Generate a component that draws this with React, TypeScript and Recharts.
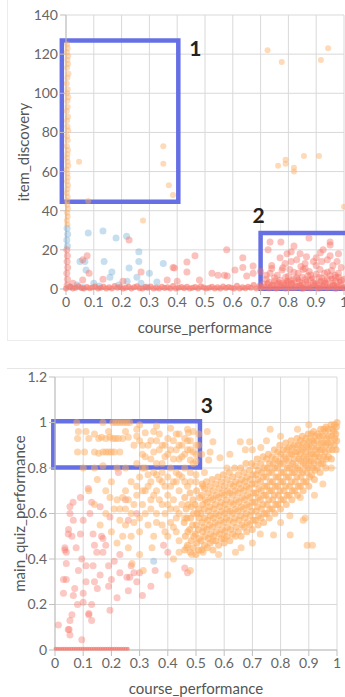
import { ScatterChart, Scatter, XAxis, YAxis, CartesianGrid, ReferenceArea, Label } from "recharts"

type Pt = [number, number]

const xTicks = [0, 0.1, 0.2, 0.3, 0.4, 0.5, 0.6, 0.7, 0.8, 0.9, 1]
const discoveryTicks = [0, 20, 40, 60, 80, 100, 120, 140]
const quizTicks = [0, 0.2, 0.4, 0.6, 0.8, 1, 1.2]

// top chart: course_performance vs item_discovery
const topOrange: Pt[] = [
  [0.004, 125], [0.006, 123], [0.003, 121], [0.008, 119], [0.005, 117], [0.007, 115], [0.004, 113], [0.009, 110],
  [0.005, 108], [0.003, 105], [0.006, 102], [0.004, 100], [0.008, 98], [0.005, 96], [0.006, 93], [0.003, 91],
  [0.007, 88], [0.004, 86], [0.005, 83], [0.008, 81], [0.004, 78], [0.006, 76], [0.003, 73], [0.007, 71],
  [0.005, 69], [0.004, 67], [0.006, 65], [0.008, 63], [0.003, 61], [0.005, 59], [0.006, 57], [0.004, 55],
  [0.007, 53], [0.005, 51], [0.003, 49], [0.006, 47], [0.004, 45], [0.005, 43], [0.007, 41], [0.004, 39],
  [0.006, 37], [0.003, 35], [0.005, 33],
  [0.047, 65], [0.35, 73], [0.35, 64], [0.37, 53], [0.385, 48], [0.08, 45], [0.277, 35],
  [0.725, 122], [0.776, 116], [0.917, 117], [0.943, 123], [0.763, 63], [0.79, 66], [0.79, 64], [0.82, 62],
  [0.856, 68], [0.91, 68], [0.82, 60], [1.0, 42],
]

const topBlue: Pt[] = [
  [0.08, 28.6], [0.133, 29.6], [0.18, 26], [0.218, 27], [0.262, 19], [0.262, 14], [0.05, 14], [0.068, 14],
  [0.072, 9.7], [0.137, 14], [0.165, 8.7], [0.158, 6], [0.227, 10.7], [0.255, 6], [0.35, 13], [0.327, 3.6],
  [0.014, 1], [0.3, 8], [0.1, 3], [0.04, 2], [0.27, 3], [0.19, 2], [0.004, 31], [0.006, 28], [0.003, 25],
  [0.005, 22], [0.12, 1.5], [0.06, 0.8], [0.22, 4], [0.29, 1],
]

const topRed: Pt[] = [
  [0.227, 25], [0.076, 17], [0.06, 15], [0.083, 8], [0.06, 4.6], [0.133, 5], [0.27, 8.7], [0.364, 4.6],
  [0.39, 10.7], [0.435, 13.8], [0.435, 8.7], [0.464, 17], [0.025, 3], [0.205, 4], [0.4, 4], [0.578, 20],
  [0.385, 11], [0.525, 8], [0.48, 4.6], [0.547, 7], [0.608, 9.7], [0.636, 16], [0.636, 11], [0.673, 11.7],
  [0.65, 6.6], [0.58, 6.6], [0.673, 8], [0.57, 7],
  [0.734, 24], [0.773, 24], [0.874, 26], [0.95, 24], [0.95, 22.5], [0.82, 22], [0.727, 20], [0.795, 18],
  [0.77, 16], [0.842, 18], [0.925, 20], [0.98, 18], [0.74, 12], [0.788, 13], [0.83, 15], [0.89, 14],
  [0.92, 14], [0.96, 12], [0.777, 9.7], [0.853, 10], [0.914, 10], [0.968, 7], [0.734, 8], [0.76, 7],
  [0.81, 14], [0.86, 13], [0.9, 16], [0.94, 15], [0.99, 11], [0.805, 10], [0.835, 8], [0.875, 9], [0.93, 8],
  [0.955, 9.5], [0.98, 6], [0.72, 5], [0.75, 4], [0.79, 6], [0.82, 5], [0.85, 6], [0.88, 4.5], [0.91, 6],
  [0.94, 5], [0.97, 4], [1.0, 5], [0.78, 3], [0.81, 2.5], [0.84, 3.5], [0.87, 2], [0.9, 3], [0.93, 2.5],
  [0.96, 3], [0.99, 2], [0.71, 2.5], [0.74, 1.8], [0.77, 1.5], [0.8, 1], [0.83, 1.2], [0.86, 0.8],
  [0.89, 1.4], [0.92, 1], [0.95, 1.6], [0.98, 1], [0.73, 0.5], [0.76, 0.7], [0.79, 0.4], [0.82, 0.6],
  [0.85, 0.3], [0.88, 0.5], [0.91, 0.4], [0.94, 0.6], [0.97, 0.3], [1.0, 0.8], [0.845, 11.5], [0.865, 16.5],
  [0.915, 18.5], [0.975, 14], [0.7, 9], [0.81, 19], [0.9, 12], [0.95, 17],
  [0.73, 3.5], [0.75, 5.8], [0.77, 4.5], [0.79, 2.8], [0.8, 6.5], [0.81, 4.2], [0.83, 5.8], [0.84, 1.5],
  [0.86, 4.8], [0.87, 6.8], [0.89, 3.2], [0.9, 7.5], [0.91, 2.2], [0.92, 5.5], [0.93, 4.2], [0.95, 6.8],
  [0.96, 1.8], [0.97, 5.9], [0.99, 4.5], [0.76, 2.5], [0.8, 3.4], [0.85, 2.8], [0.88, 7.2], [0.94, 8.5],
  [0.98, 8], [0.82, 8.5], [0.86, 10.5], [0.78, 10.8], [0.72, 7], [0.74, 10.5],
  [0.003, 20], [0.005, 17], [0.004, 14], [0.006, 11], [0.003, 8], [0.005, 5], [0.004, 2],
]

// the packed band of red points along item_discovery = 0
const topRedBand: Pt[] = [
  [0.0, 0.3], [0.015, 1.1], [0.025, 0.2], [0.035, 0.7], [0.045, 1.4], [0.055, 0.5], [0.065, 0.2], [0.075, 1.0],
  [0.085, 0.4], [0.095, 0.8], [0.105, 1.3], [0.115, 0.2], [0.125, 0.6], [0.135, 1.1], [0.145, 0.3], [0.155, 0.9],
  [0.165, 0.2], [0.175, 1.5], [0.185, 0.6], [0.195, 1.0], [0.205, 0.3], [0.215, 0.7], [0.225, 1.2], [0.235, 0.2],
  [0.245, 0.9], [0.255, 1.4], [0.265, 0.4], [0.275, 0.2], [0.285, 1.0], [0.295, 0.6], [0.305, 1.3], [0.315, 0.3],
  [0.325, 0.8], [0.335, 0.2], [0.345, 1.1], [0.355, 0.5], [0.365, 0.9], [0.375, 0.3], [0.385, 1.5], [0.395, 0.2],
  [0.405, 0.7], [0.415, 1.0], [0.425, 0.4], [0.435, 1.2], [0.445, 0.2], [0.455, 0.6], [0.465, 1.0], [0.475, 0.3],
  [0.485, 1.4], [0.495, 0.8], [0.505, 0.2], [0.515, 0.6], [0.525, 1.1], [0.535, 0.3], [0.545, 0.9], [0.555, 0.2],
  [0.565, 1.3], [0.575, 0.5], [0.585, 1.0], [0.595, 0.7], [0.605, 0.3], [0.615, 1.6], [0.625, 0.2], [0.635, 0.9],
  [0.645, 0.4], [0.655, 1.2], [0.665, 0.7], [0.675, 2.1], [0.685, 0.3], [0.695, 1.5], [0.705, 0.6], [0.715, 1.2],
  [0.725, 3.0], [0.735, 0.9], [0.745, 2.4], [0.755, 0.3], [0.765, 3.5], [0.775, 1.0], [0.785, 2.2], [0.795, 4.2],
  [0.805, 0.6], [0.815, 3.1], [0.825, 1.8], [0.835, 4.8], [0.845, 2.0], [0.855, 0.5], [0.865, 3.8], [0.875, 1.2],
  [0.885, 5.5], [0.895, 2.6], [0.905, 0.7], [0.915, 4.0], [0.925, 1.7], [0.935, 3.3], [0.945, 0.9], [0.955, 5.2],
  [0.965, 2.1], [0.975, 1.1], [0.985, 3.7], [0.995, 0.6],
]

// bottom chart: course_performance vs main_quiz_performance
const quizRedFloor: Pt[] = [
  [0.002, 0.006], [0.01, 0.006], [0.018, 0.006], [0.026, 0.006], [0.034, 0.006], [0.042, 0.006], [0.05, 0.006],
  [0.058, 0.006], [0.066, 0.006], [0.074, 0.006], [0.082, 0.006], [0.09, 0.006], [0.098, 0.006], [0.106, 0.006],
  [0.114, 0.006], [0.122, 0.006], [0.13, 0.006], [0.138, 0.006], [0.146, 0.006], [0.154, 0.006], [0.162, 0.006],
  [0.17, 0.006], [0.178, 0.006], [0.186, 0.006], [0.194, 0.006], [0.202, 0.006], [0.21, 0.006], [0.218, 0.006],
  [0.226, 0.006], [0.234, 0.006], [0.242, 0.006], [0.25, 0.006], [0.258, 0.006],
]

const quizRed: Pt[] = [
  [0.012, 0.11], [0.053, 0.13], [0.05, 0.09], [0.06, 0.155], [0.095, 0.045], [0.08, 0.2], [0.12, 0.155],
  [0.13, 0.13], [0.195, 0.175], [0.03, 0.31], [0.07, 0.27], [0.065, 0.24], [0.1, 0.25], [0.15, 0.27],
  [0.14, 0.3], [0.19, 0.28], [0.26, 0.26], [0.31, 0.24], [0.34, 0.28], [0.23, 0.34], [0.28, 0.34],
  [0.29, 0.3], [0.46, 0.36], [0.47, 0.34],
  [0.03, 0.25], [0.04, 0.31], [0.035, 0.45], [0.04, 0.43], [0.048, 0.53], [0.06, 0.5], [0.09, 0.51],
  [0.095, 0.4], [0.083, 0.35], [0.11, 0.37], [0.135, 0.37], [0.14, 0.46], [0.148, 0.43], [0.165, 0.5],
  [0.17, 0.43], [0.19, 0.37], [0.21, 0.39], [0.255, 0.32], [0.27, 0.37], [0.3, 0.34], [0.355, 0.35],
  [0.385, 0.46], [0.4, 0.43], [0.1, 0.21], [0.12, 0.16], [0.047, 0.09], [0.053, 0.066], [0.13, 0.2],
  [0.053, 0.6], [0.09, 0.67], [0.118, 0.71], [0.13, 0.65], [0.16, 0.63], [0.195, 0.585], [0.225, 0.78],
  [0.25, 0.66], [0.26, 0.57], [0.29, 0.6], [0.065, 0.57], [0.047, 0.51], [0.035, 0.44], [0.04, 0.38],
  [0.135, 0.51], [0.17, 0.49], [0.18, 0.46], [0.23, 0.42], [0.265, 0.32], [0.1, 0.57], [0.124, 0.6],
  [0.064, 0.65], [0.053, 0.63], [0.075, 0.45], [0.11, 0.3], [0.16, 0.33], [0.2, 0.31], [0.22, 0.23],
]

const quizBlue: Pt[] = [[0.35, 0.39]]

// main diagonal cluster, first pass
const quizOrange: Pt[] = [
  [0.46, 0.44], [0.462, 0.5], [0.458, 0.56], [0.465, 0.62], [0.46, 0.67],
  [0.48, 0.43], [0.483, 0.48], [0.478, 0.53], [0.481, 0.58], [0.484, 0.63], [0.479, 0.69],
  [0.5, 0.42], [0.503, 0.47], [0.498, 0.51], [0.501, 0.55], [0.504, 0.6], [0.497, 0.64], [0.502, 0.7],
  [0.52, 0.44], [0.518, 0.48], [0.523, 0.52], [0.521, 0.56], [0.517, 0.6], [0.524, 0.64], [0.52, 0.68], [0.522, 0.73],
  [0.54, 0.45], [0.543, 0.49], [0.538, 0.53], [0.541, 0.57], [0.544, 0.61], [0.539, 0.65], [0.542, 0.69], [0.537, 0.74],
  [0.56, 0.44], [0.562, 0.5], [0.558, 0.54], [0.561, 0.58], [0.563, 0.62], [0.559, 0.66], [0.561, 0.7], [0.557, 0.75],
  [0.58, 0.46], [0.583, 0.51], [0.578, 0.55], [0.581, 0.59], [0.584, 0.63], [0.579, 0.67], [0.582, 0.71], [0.578, 0.76],
  [0.6, 0.47], [0.602, 0.52], [0.598, 0.56], [0.601, 0.6], [0.603, 0.64], [0.599, 0.68], [0.601, 0.72], [0.597, 0.77],
  [0.62, 0.48], [0.623, 0.53], [0.618, 0.57], [0.621, 0.61], [0.624, 0.65], [0.619, 0.69], [0.622, 0.73], [0.618, 0.78],
  [0.64, 0.5], [0.642, 0.54], [0.638, 0.58], [0.641, 0.62], [0.643, 0.66], [0.639, 0.7], [0.641, 0.74], [0.637, 0.8],
  [0.66, 0.5], [0.663, 0.55], [0.658, 0.59], [0.661, 0.63], [0.664, 0.67], [0.659, 0.71], [0.662, 0.75], [0.658, 0.8],
  [0.68, 0.52], [0.682, 0.56], [0.678, 0.6], [0.681, 0.64], [0.683, 0.68], [0.679, 0.72], [0.681, 0.76], [0.677, 0.82],
  [0.7, 0.53], [0.703, 0.57], [0.698, 0.61], [0.701, 0.65], [0.704, 0.69], [0.699, 0.73], [0.702, 0.77], [0.698, 0.82],
  [0.72, 0.55], [0.722, 0.59], [0.718, 0.63], [0.721, 0.67], [0.723, 0.71], [0.719, 0.75], [0.721, 0.79], [0.717, 0.84],
  [0.74, 0.56], [0.743, 0.6], [0.738, 0.64], [0.741, 0.68], [0.744, 0.72], [0.739, 0.76], [0.742, 0.8], [0.738, 0.85],
  [0.76, 0.58], [0.762, 0.62], [0.758, 0.66], [0.761, 0.7], [0.763, 0.74], [0.759, 0.78], [0.761, 0.82], [0.757, 0.86],
  [0.78, 0.6], [0.783, 0.64], [0.778, 0.68], [0.781, 0.72], [0.784, 0.76], [0.779, 0.8], [0.782, 0.84], [0.778, 0.88],
  [0.8, 0.62], [0.802, 0.66], [0.798, 0.7], [0.801, 0.74], [0.803, 0.78], [0.799, 0.82], [0.801, 0.86], [0.797, 0.9],
  [0.82, 0.64], [0.823, 0.68], [0.818, 0.72], [0.821, 0.76], [0.824, 0.8], [0.819, 0.84], [0.822, 0.88], [0.818, 0.91],
  [0.84, 0.66], [0.842, 0.7], [0.838, 0.74], [0.841, 0.78], [0.843, 0.82], [0.839, 0.86], [0.841, 0.89], [0.837, 0.92],
  [0.86, 0.68], [0.863, 0.72], [0.858, 0.76], [0.861, 0.8], [0.864, 0.84], [0.859, 0.87], [0.862, 0.9], [0.858, 0.93],
  [0.88, 0.7], [0.882, 0.74], [0.878, 0.78], [0.881, 0.82], [0.883, 0.85], [0.879, 0.88], [0.881, 0.91], [0.877, 0.94],
  [0.9, 0.72], [0.903, 0.76], [0.898, 0.8], [0.901, 0.83], [0.904, 0.86], [0.899, 0.89], [0.902, 0.92], [0.898, 0.95],
  [0.92, 0.75], [0.922, 0.79], [0.918, 0.82], [0.921, 0.85], [0.923, 0.88], [0.919, 0.91], [0.921, 0.94], [0.917, 0.96],
  [0.94, 0.78], [0.943, 0.82], [0.938, 0.85], [0.941, 0.88], [0.944, 0.91], [0.939, 0.94], [0.942, 0.97],
  [0.96, 0.8], [0.962, 0.84], [0.958, 0.87], [0.961, 0.9], [0.963, 0.93], [0.959, 0.96], [0.961, 0.98],
  [0.98, 0.84], [0.983, 0.88], [0.978, 0.91], [0.981, 0.94], [0.984, 0.97], [0.979, 0.99],
  [0.997, 0.88], [0.999, 0.92], [0.996, 0.95], [0.998, 0.98], [1.0, 1.0],
]

// main diagonal cluster, points lying between the first pass
const quizOrangeCore: Pt[] = [
  [0.47, 0.46], [0.471, 0.52], [0.468, 0.58], [0.472, 0.64],
  [0.49, 0.45], [0.492, 0.5], [0.488, 0.55], [0.491, 0.6], [0.489, 0.66],
  [0.51, 0.44], [0.512, 0.49], [0.508, 0.53], [0.511, 0.58], [0.509, 0.62], [0.513, 0.67],
  [0.53, 0.46], [0.532, 0.5], [0.528, 0.54], [0.531, 0.58], [0.529, 0.62], [0.533, 0.66], [0.53, 0.71],
  [0.55, 0.47], [0.552, 0.51], [0.548, 0.55], [0.551, 0.59], [0.549, 0.63], [0.553, 0.67], [0.55, 0.72],
  [0.57, 0.48], [0.572, 0.52], [0.568, 0.56], [0.571, 0.6], [0.569, 0.64], [0.573, 0.68], [0.57, 0.73],
  [0.59, 0.49], [0.592, 0.53], [0.588, 0.57], [0.591, 0.61], [0.589, 0.65], [0.593, 0.69], [0.59, 0.74],
  [0.61, 0.5], [0.612, 0.54], [0.608, 0.58], [0.611, 0.62], [0.609, 0.66], [0.613, 0.7], [0.61, 0.75],
  [0.63, 0.51], [0.632, 0.56], [0.628, 0.6], [0.631, 0.64], [0.629, 0.68], [0.633, 0.72], [0.63, 0.76],
  [0.65, 0.52], [0.652, 0.57], [0.648, 0.61], [0.651, 0.65], [0.649, 0.69], [0.653, 0.73], [0.65, 0.77],
  [0.67, 0.54], [0.672, 0.58], [0.668, 0.62], [0.671, 0.66], [0.669, 0.7], [0.673, 0.74], [0.67, 0.78],
  [0.69, 0.55], [0.692, 0.59], [0.688, 0.63], [0.691, 0.67], [0.689, 0.71], [0.693, 0.75], [0.69, 0.79],
  [0.71, 0.57], [0.712, 0.61], [0.708, 0.65], [0.711, 0.69], [0.709, 0.73], [0.713, 0.77], [0.71, 0.81],
  [0.73, 0.58], [0.732, 0.62], [0.728, 0.66], [0.731, 0.7], [0.729, 0.74], [0.733, 0.78], [0.73, 0.82],
  [0.75, 0.6], [0.752, 0.64], [0.748, 0.68], [0.751, 0.72], [0.749, 0.76], [0.753, 0.8], [0.75, 0.84],
  [0.77, 0.62], [0.772, 0.66], [0.768, 0.7], [0.771, 0.74], [0.769, 0.78], [0.773, 0.82], [0.77, 0.85],
  [0.79, 0.64], [0.792, 0.68], [0.788, 0.72], [0.791, 0.76], [0.789, 0.8], [0.793, 0.83], [0.79, 0.87],
  [0.81, 0.66], [0.812, 0.7], [0.808, 0.74], [0.811, 0.78], [0.809, 0.82], [0.813, 0.85], [0.81, 0.88],
  [0.83, 0.68], [0.832, 0.72], [0.828, 0.76], [0.831, 0.8], [0.829, 0.83], [0.833, 0.86], [0.83, 0.89],
  [0.85, 0.7], [0.852, 0.74], [0.848, 0.78], [0.851, 0.81], [0.849, 0.84], [0.853, 0.87], [0.85, 0.9],
  [0.87, 0.72], [0.872, 0.76], [0.868, 0.79], [0.871, 0.83], [0.869, 0.86], [0.873, 0.89], [0.87, 0.92],
  [0.89, 0.74], [0.892, 0.78], [0.888, 0.81], [0.891, 0.84], [0.889, 0.87], [0.893, 0.9], [0.89, 0.93],
  [0.91, 0.77], [0.912, 0.8], [0.908, 0.83], [0.911, 0.86], [0.909, 0.89], [0.913, 0.92], [0.91, 0.95],
  [0.93, 0.8], [0.932, 0.83], [0.928, 0.86], [0.931, 0.89], [0.929, 0.92], [0.933, 0.95],
  [0.95, 0.82], [0.952, 0.85], [0.948, 0.88], [0.951, 0.91], [0.949, 0.94], [0.953, 0.97],
  [0.97, 0.85], [0.972, 0.88], [0.968, 0.91], [0.971, 0.94], [0.969, 0.97],
  [0.99, 0.9], [0.992, 0.93], [0.988, 0.96], [0.991, 0.99],
]

// scattered points left of the cluster and around it
const quizOrangeSpread: Pt[] = [
  [0.077, 1.0], [0.17, 1.0], [0.205, 1.0], [0.215, 1.0], [0.225, 1.0], [0.235, 1.0], [0.245, 1.0], [0.255, 1.0],
  [0.265, 1.0], [0.3, 0.99], [0.36, 0.985],
  [0.083, 0.96], [0.08, 0.93], [0.12, 0.93], [0.155, 0.93], [0.165, 0.935], [0.18, 0.93], [0.195, 0.935],
  [0.205, 0.93], [0.215, 0.93], [0.225, 0.93], [0.24, 0.93], [0.26, 0.935],
  [0.08, 0.87], [0.105, 0.87], [0.14, 0.87], [0.155, 0.865], [0.17, 0.87], [0.18, 0.87], [0.19, 0.87],
  [0.2, 0.87], [0.21, 0.87], [0.23, 0.87],
  [0.1, 0.8], [0.14, 0.8], [0.17, 0.81], [0.22, 0.8], [0.25, 0.8],
  [0.11, 0.96], [0.14, 0.95], [0.19, 0.96], [0.25, 0.96], [0.29, 0.97], [0.32, 0.955], [0.35, 0.96],
  [0.41, 0.975], [0.44, 0.95],
  [0.28, 0.9], [0.3, 0.92], [0.31, 0.86], [0.33, 0.9], [0.34, 0.84], [0.36, 0.92], [0.37, 0.88], [0.38, 0.82],
  [0.39, 0.9], [0.4, 0.86], [0.41, 0.8], [0.42, 0.92], [0.43, 0.88], [0.44, 0.84], [0.45, 0.9], [0.46, 0.86],
  [0.47, 0.92], [0.48, 0.88], [0.49, 0.82], [0.5, 0.9], [0.51, 0.95], [0.5, 0.86], [0.46, 0.8], [0.43, 0.78],
  [0.29, 0.82], [0.3, 0.76], [0.32, 0.8], [0.33, 0.72], [0.35, 0.78], [0.36, 0.7], [0.37, 0.75], [0.39, 0.72],
  [0.4, 0.68], [0.42, 0.74], [0.44, 0.7], [0.45, 0.76], [0.47, 0.72], [0.48, 0.78], [0.29, 0.68], [0.31, 0.64],
  [0.34, 0.66], [0.36, 0.6], [0.38, 0.64], [0.41, 0.62], [0.43, 0.58], [0.45, 0.64], [0.3, 0.58], [0.33, 0.55],
  [0.35, 0.5], [0.38, 0.55], [0.4, 0.5], [0.42, 0.54], [0.44, 0.48], [0.27, 0.6], [0.25, 0.7], [0.27, 0.74],
  [0.26, 0.66],
  [0.29, 0.94], [0.31, 0.9], [0.32, 0.85], [0.34, 0.92], [0.35, 0.87], [0.36, 0.82], [0.37, 0.95], [0.38, 0.9],
  [0.39, 0.85], [0.4, 0.93], [0.41, 0.88], [0.42, 0.84], [0.43, 0.95], [0.44, 0.9], [0.45, 0.85], [0.46, 0.93],
  [0.47, 0.88], [0.48, 0.92], [0.49, 0.87], [0.5, 0.83], [0.51, 0.9], [0.52, 0.86], [0.49, 0.96], [0.47, 0.97],
  [0.31, 0.8], [0.33, 0.77], [0.34, 0.74], [0.36, 0.77], [0.38, 0.78], [0.38, 0.74], [0.4, 0.76], [0.41, 0.72],
  [0.43, 0.74], [0.44, 0.77], [0.46, 0.74], [0.48, 0.74], [0.5, 0.77], [0.5, 0.74],
  [0.32, 0.7], [0.34, 0.62], [0.35, 0.68], [0.37, 0.66], [0.39, 0.6], [0.4, 0.64], [0.42, 0.66], [0.43, 0.62],
  [0.44, 0.6], [0.46, 0.58], [0.32, 0.6], [0.36, 0.56], [0.39, 0.52], [0.41, 0.56], [0.43, 0.52], [0.3, 0.52],
  [0.28, 0.56], [0.27, 0.5], [0.25, 0.55], [0.23, 0.62], [0.25, 0.62], [0.28, 0.64], [0.29, 0.72], [0.31, 0.7],
  [0.15, 0.75], [0.18, 0.7], [0.2, 0.74], [0.22, 0.66], [0.24, 0.67], [0.195, 0.67], [0.21, 0.62], [0.23, 0.57],
  [0.18, 0.6], [0.16, 0.55], [0.2, 0.52], [0.24, 0.5], [0.22, 0.47], [0.26, 0.45], [0.12, 0.7], [0.14, 0.64],
  [0.485, 0.42], [0.525, 0.43], [0.48, 0.35], [0.4, 0.33], [0.344, 0.45], [0.3, 0.42], [0.273, 0.38],
  [0.42, 0.4], [0.44, 0.43], [0.467, 0.45], [0.313, 0.35],
  [0.763, 0.97], [0.657, 0.915], [0.69, 0.915], [0.675, 0.88], [0.73, 0.89], [0.56, 0.915], [0.55, 0.87],
  [0.545, 0.835], [0.585, 0.845], [0.61, 0.8], [0.53, 0.78], [0.48, 0.835], [0.473, 0.955], [0.54, 0.96],
  [0.525, 0.72], [0.887, 0.58], [0.894, 0.46], [0.913, 0.46], [0.728, 0.51], [0.8, 0.56], [0.833, 0.59],
  [0.87, 0.67], [0.56, 0.48], [0.6, 0.49], [0.775, 0.505], [0.834, 0.505], [0.88, 0.57], [0.62, 0.86],
  [0.7, 0.88], [0.75, 0.92], [0.8, 0.94], [0.66, 0.45], [0.7, 0.47], [0.58, 0.42], [0.64, 0.43], [0.92, 0.68],
  [0.95, 0.73], [0.98, 0.8], [0.86, 0.97], [0.9, 0.99],
]

const toXY = (pts: Pt[]) => pts.map(([x, y]) => ({ x, y }))

const ORANGE = "#fdae61"
const RED = "#f7756a"
const BLUE = "#74acd8"
const BOX = "#6670e4"
const FONT = "Lato, 'Open Sans', sans-serif"

const dot = (color: string, op: number, r = 3.5) => (p: any) => (
  <circle cx={p.cx} cy={p.cy} r={r} fill={color} fillOpacity={op} />
)

const tickStyle = { fill: "#666", fontSize: 14, fontFamily: FONT }

const XTitle = (props: any) => {
  const { viewBox } = props
  const cx = viewBox.x + viewBox.width / 2
  const cy = viewBox.y + 38
  return (
    <text x={cx} y={cy} textAnchor="middle" dominantBaseline="central" fill="#555" fontSize={15} fontFamily={FONT}>
      course_performance
    </text>
  )
}

const YTitle = (props: any) => {
  const { viewBox, text, dx } = props
  const cx = viewBox.x + dx
  const cy = viewBox.y + viewBox.height / 2
  return (
    <text
      x={cx}
      y={cy}
      transform={`rotate(-90 ${cx} ${cy})`}
      textAnchor="middle"
      dominantBaseline="central"
      fill="#555"
      fontSize={15}
      fontFamily={FONT}
    >
      {text}
    </text>
  )
}

const BoxNum = (props: any) => {
  const { viewBox, text, side } = props
  const x = side === "right" ? viewBox.x + viewBox.width + props.ox : viewBox.x + props.ox
  const y = viewBox.y + props.oy
  return (
    <text x={x} y={y} textAnchor="middle" dominantBaseline="central" fill="#222" fontSize={21} fontWeight="bold" fontFamily={FONT}>
      {text}
    </text>
  )
}

export default function App() {
  return (
    <div style={{ position: "absolute", left: 0, top: 0, width: 345, height: 697, overflow: "hidden", background: "#fff" }}>
      <div
        style={{
          position: "absolute",
          left: 7,
          top: -1,
          width: 360,
          height: 341,
          borderLeft: "1px solid #ececec",
          borderBottom: "1px solid #ececec",
        }}
      />
      <div style={{ position: "absolute", left: 7, top: 368, width: 360, borderTop: "1px solid #e6e6e6" }} />

      <div style={{ position: "absolute", left: 0, top: 0 }}>
        <ScatterChart width={362} height={340} margin={{ top: 15, right: 18, bottom: 0, left: 0 }}>
          <CartesianGrid stroke="#d9d9d9" />
          <XAxis
            type="number"
            dataKey="x"
            domain={[0, 1]}
            ticks={xTicks}
            height={51}
            tick={tickStyle}
            stroke="#bfbfbf"
            interval={0}
          >
            <Label content={<XTitle />} />
          </XAxis>
          <YAxis
            type="number"
            dataKey="y"
            domain={[0, 140]}
            ticks={discoveryTicks}
            width={66}
            tick={tickStyle}
            stroke="#bfbfbf"
            interval={0}
          >
            <Label content={<YTitle text="item_discovery" dx={23} />} />
          </YAxis>
          <Scatter data={toXY(topBlue)} shape={dot(BLUE, 0.4)} isAnimationActive={false} />
          <Scatter data={toXY(topRed)} shape={dot(RED, 0.45)} isAnimationActive={false} />
          <Scatter data={toXY(topRedBand)} shape={dot(RED, 0.6, 3)} isAnimationActive={false} />
          <Scatter data={toXY(topOrange)} shape={dot(ORANGE, 0.45, 3)} isAnimationActive={false} />
          <ReferenceArea
            x1={-0.015}
            x2={0.404}
            y1={44.6}
            y2={127}
            fill="none"
            stroke={BOX}
            strokeWidth={4.5}
            ifOverflow="visible"
          >
            <Label content={<BoxNum text="1" side="right" ox={17} oy={7} />} />
          </ReferenceArea>
          <ReferenceArea
            x1={0.7}
            x2={1.06}
            y1={0.1}
            y2={28.6}
            fill="none"
            stroke={BOX}
            strokeWidth={4.5}
            ifOverflow="visible"
          >
            <Label content={<BoxNum text="2" side="left" ox={-2} oy={-19} />} />
          </ReferenceArea>
        </ScatterChart>
      </div>

      <div style={{ position: "absolute", left: 0, top: 360 }}>
        <ScatterChart width={345} height={337} margin={{ top: 17, right: 8, bottom: 0, left: 0 }}>
          <CartesianGrid stroke="#d9d9d9" />
          <XAxis
            type="number"
            dataKey="x"
            domain={[0, 1]}
            ticks={xTicks}
            height={47}
            tick={tickStyle}
            stroke="#bfbfbf"
            interval={0}
          >
            <Label content={<XTitle />} />
          </XAxis>
          <YAxis
            type="number"
            dataKey="y"
            domain={[0, 1.2]}
            ticks={quizTicks}
            width={55}
            tick={tickStyle}
            stroke="#bfbfbf"
            interval={0}
          >
            <Label content={<YTitle text="main_quiz_performance" dx={19} />} />
          </YAxis>
          <Scatter data={toXY(quizRed)} shape={dot(RED, 0.4)} isAnimationActive={false} />
          <Scatter data={toXY(quizRedFloor)} shape={dot(RED, 0.7, 2)} isAnimationActive={false} />
          <Scatter data={toXY(quizOrangeSpread)} shape={dot(ORANGE, 0.5)} isAnimationActive={false} />
          <Scatter data={toXY(quizOrange)} shape={dot(ORANGE, 0.6)} isAnimationActive={false} />
          <Scatter data={toXY(quizOrangeCore)} shape={dot(ORANGE, 0.6)} isAnimationActive={false} />
          <Scatter data={toXY(quizBlue)} shape={dot(BLUE, 0.4)} isAnimationActive={false} />
          <ReferenceArea
            x1={-0.006}
            x2={0.514}
            y1={0.802}
            y2={1.006}
            fill="none"
            stroke={BOX}
            strokeWidth={4.5}
            ifOverflow="visible"
          >
            <Label content={<BoxNum text="3" side="right" ox={7} oy={-17} />} />
          </ReferenceArea>
        </ScatterChart>
      </div>
    </div>
  )
}
